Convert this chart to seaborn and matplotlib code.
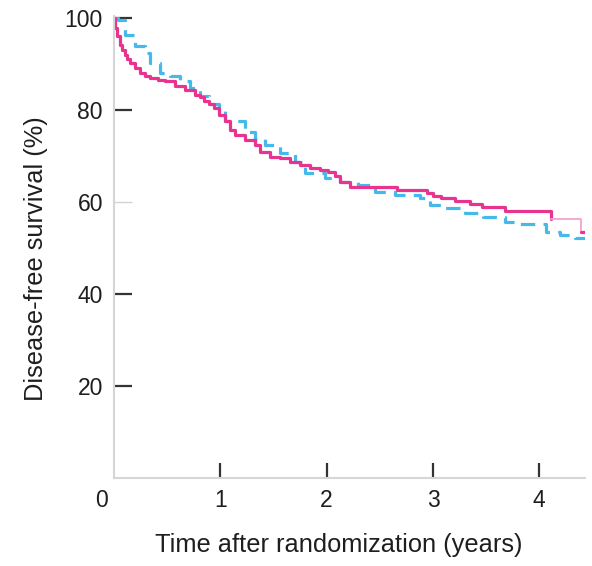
import matplotlib
matplotlib.use("Agg")
import matplotlib.pyplot as plt
import pandas as pd
import seaborn as sns

# Kaplan-Meier estimates: time after randomization (years) and disease-free survival (%)
arm_a_time = [0.0, 0.005, 0.028, 0.052, 0.075, 0.099, 0.122, 0.146, 0.193, 0.240,
              0.287, 0.334, 0.409, 0.475, 0.569, 0.663, 0.757, 0.804, 0.851, 0.898,
              0.945, 0.992, 1.040, 1.087, 1.134, 1.228, 1.322, 1.369, 1.463, 1.557,
              1.651, 1.745, 1.839, 1.933, 2.008, 2.074, 2.121, 2.215, 2.658, 2.940,
              2.996, 3.072, 3.203, 3.344, 3.457, 3.674, 4.113]
arm_a_surv = [100.0, 97.8, 96.1, 94.2, 93.0, 92.0, 91.1, 90.2, 89.1, 88.0,
              87.4, 87.0, 86.5, 86.2, 85.2, 84.4, 83.3, 82.8, 81.9, 81.3,
              80.4, 79.0, 77.5, 75.7, 74.6, 73.5, 72.4, 70.9, 69.8, 69.5,
              68.8, 68.0, 67.3, 67.0, 66.5, 65.7, 64.4, 63.3, 62.6, 61.9,
              61.2, 60.9, 60.2, 59.6, 58.9, 58.1, 56.2]
# sparse follow-up segment of arm A
arm_a_tail_time = [4.113, 4.395]
arm_a_tail_surv = [56.2, 53.5]
arm_a_end_time = [4.395, 4.43]
arm_a_end_surv = [53.5, 53.5]

arm_b_time = [0.0, 0.033, 0.099, 0.193, 0.287, 0.334, 0.428, 0.522, 0.616, 0.710,
              0.804, 0.898, 0.992, 1.040, 1.228, 1.322, 1.416, 1.557, 1.698, 1.792,
              1.980, 2.121, 2.291, 2.451, 2.639, 2.874, 2.968, 3.109, 3.297, 3.466,
              3.674, 3.815, 4.059, 4.191, 4.332, 4.43]
arm_b_surv = [100.0, 99.6, 96.4, 93.8, 92.4, 90.2, 88.0, 87.3, 86.2, 84.8,
              83.0, 81.2, 79.7, 77.5, 75.3, 73.8, 72.4, 70.6, 68.8, 66.2,
              65.2, 64.4, 63.7, 62.1, 61.5, 60.8, 59.3, 58.6, 57.6, 56.7,
              55.7, 55.2, 53.5, 52.8, 52.1, 52.1]

x_ticks = [1, 2, 3, 4]
y_ticks = [20, 40, 60, 80, 100]

MAGENTA = "#E8338F"
MAGENTA_LIGHT = "#F4A3CB"
CYAN = "#45B9EA"
TEXT = "#1e1e1e"
FONT = "Liberation Sans"
TICK_FS = 16.5
LABEL_FS = 18.3

sns.set_theme(style="white")
plt.rcParams["font.family"] = [FONT, "DejaVu Sans"]

fig = plt.figure(figsize=(5.92, 5.66), dpi=100)
ax = fig.add_axes([0.1926, 0.1555, 0.7956, 0.8168])

df_b = pd.DataFrame({"t": arm_b_time, "s": arm_b_surv})
df_a = pd.DataFrame({"t": arm_a_time, "s": arm_a_surv})
df_a_tail = pd.DataFrame({"t": arm_a_tail_time, "s": arm_a_tail_surv})
df_a_end = pd.DataFrame({"t": arm_a_end_time, "s": arm_a_end_surv})

sns.lineplot(data=df_b, x="t", y="s", ax=ax, color=CYAN, linewidth=2.3,
             linestyle=(0, (4.5, 2.6)), drawstyle="steps-post", estimator=None)
sns.lineplot(data=df_a, x="t", y="s", ax=ax, color=MAGENTA, linewidth=2.3,
             drawstyle="steps-post", estimator=None)
sns.lineplot(data=df_a_tail, x="t", y="s", ax=ax, color=MAGENTA_LIGHT, linewidth=1.3,
             drawstyle="steps-post", estimator=None)
sns.lineplot(data=df_a_end, x="t", y="s", ax=ax, color=MAGENTA, linewidth=2.3,
             drawstyle="steps-post", estimator=None)

ax.set_xlim(0, 4.43)
ax.set_ylim(0, 100.5)

for side in ("top", "right"):
    ax.spines[side].set_visible(False)
for side in ("left", "bottom"):
    ax.spines[side].set_color("#d6d6d6")
    ax.spines[side].set_linewidth(1.5)

ax.set_xticks(x_ticks)
ax.set_xticklabels([str(v) for v in x_ticks])
ax.set_yticks(y_ticks)
ax.set_yticklabels([str(v) for v in y_ticks])
ax.tick_params(axis="x", which="major", bottom=True, direction="in", length=11,
               width=1.6, color="#333333", pad=8, labelsize=TICK_FS, labelcolor=TEXT)
ax.tick_params(axis="y", which="major", left=True, direction="in", length=13,
               width=1.6, color="#333333", pad=8, labelsize=TICK_FS, labelcolor=TEXT)

fig.canvas.draw()
# the 60% tick is drawn faint
for tick in ax.yaxis.get_major_ticks():
    if abs(tick.get_loc() - 60) < 1e-6:
        tick.tick1line.set_color("#d4d4d4")
        tick.tick1line.set_markeredgecolor("#d4d4d4")
        tick.tick1line.set_markeredgewidth(1.0)

ax.annotate("0", xy=(0, 0), xycoords="axes fraction", xytext=(-9, -8),
            textcoords="offset points", ha="center", va="top",
            fontsize=TICK_FS, color=TEXT)

ax.set_xlabel("Time after randomization (years)", fontsize=LABEL_FS, color=TEXT)
ax.set_ylabel("Disease-free survival (%)", fontsize=LABEL_FS, color=TEXT)
ax.xaxis.set_label_coords(0.478, -0.118)
ax.yaxis.set_label_coords(-0.140, 0.474)

fig.savefig("out.png", dpi=100)
